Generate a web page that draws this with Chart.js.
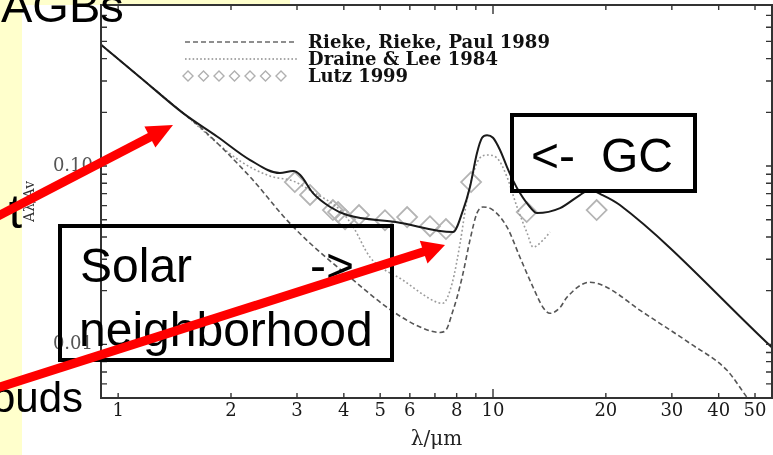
<!DOCTYPE html>
<html>
<head>
<meta charset="utf-8">
<script src="https://cdn.jsdelivr.net/npm/chart.js@4.4.1/dist/chart.umd.min.js"></script>
<style>
html, body { margin: 0; padding: 0; background: #fff; }
#page { position: relative; width: 773px; height: 455px; overflow: hidden; background: #fff; }
.yel { position: absolute; background: #ffffcc; }
#chart, #over { position: absolute; left: 0; top: 0; }
</style>
</head>
<body>
<div id="page">
  <div class="yel" style="left:0;top:0;width:22px;height:455px"></div>
  <div class="yel" style="left:0;top:0;width:290px;height:5px"></div>
  <canvas id="chart" width="773" height="455"></canvas>
  <svg id="over" width="773" height="455" font-family="'Liberation Sans', Arial, sans-serif" fill="#000">
    <rect x="60" y="226" width="332" height="134" fill="none" stroke="#000" stroke-width="4"/>
    <rect x="512" y="115" width="183" height="76" fill="none" stroke="#000" stroke-width="4"/>
    <text x="1" y="22" font-size="47">AGBs</text>
    <text x="22" y="228" font-size="48" text-anchor="end">t</text>
    <text x="83" y="412" font-size="42" text-anchor="end">clouds</text>
    <text x="80" y="282" font-size="48">Solar</text>
    <text x="310" y="282" font-size="48">-&gt;</text>
    <text x="79" y="346" font-size="48">neighborhood</text>
    <text x="531" y="172" font-size="48">&lt;-</text>
    <text x="601" y="172" font-size="48">GC</text>
    <!-- red arrows -->
    <line x1="-10" y1="220.2" x2="152" y2="136" stroke="#ff0000" stroke-width="9"/>
    <polygon points="173,125 155.4,147.6 144.4,126.4" fill="#ff0000"/>
    <line x1="-10" y1="390.2" x2="426" y2="251" stroke="#ff0000" stroke-width="9"/>
    <polygon points="445,245 427.5,263.6 419.8,240.8" fill="#ff0000"/>
  </svg>
</div>
<script>
// wavelength (micron) / extinction A_lambda/A_V
const solidLambda = [0.9, 1.15, 1.49, 1.84, 2.25, 2.70, 2.93, 3.06, 3.31, 3.68, 4.08, 5.55, 7.82, 8.32, 8.68, 9.06, 9.35, 9.64, 10.0, 10.44, 10.9, 11.3, 11.8, 12.55, 13.1, 15.1, 17.06, 18.1, 19.6, 21.8, 55.5];
const solidA = [0.479, 0.312, 0.198, 0.146, 0.108, 0.0913, 0.0937, 0.089, 0.0705, 0.0589, 0.0531, 0.0484, 0.0426, 0.0566, 0.0762, 0.118, 0.144, 0.149, 0.144, 0.123, 0.0987, 0.0834, 0.0705, 0.0589, 0.0545, 0.0581, 0.0687, 0.0733, 0.0687, 0.0604, 0.0096];

const riekeLambda = [0.9, 1.49, 1.654, 2.25, 2.82, 3.25, 4.34, 5.22, 6.39, 7.22, 7.54, 7.78, 8.02, 8.32, 8.68, 9.06, 9.40, 10.0, 10.9, 11.8, 12.79, 13.6, 14.19, 15.1, 15.75, 18.1, 20.1, 24.7, 33.5, 42.1, 47.6, 50.6];
const riekeA = [0.479, 0.198, 0.1656, 0.0868, 0.0497, 0.0369, 0.0220, 0.0161, 0.0125, 0.01166, 0.0123, 0.01493, 0.01837, 0.02506, 0.0384, 0.0544, 0.0589, 0.0566, 0.0454, 0.0308, 0.0209, 0.0161, 0.01493, 0.0161, 0.01837, 0.0223, 0.0209, 0.0155, 0.01014, 0.00715, 0.00504, 0.00426];

const draineLambda = [0.9, 1.49, 2.115, 2.54, 2.93, 3.31, 3.91, 4.24, 4.70, 5.75, 7.09, 7.35, 7.78, 8.17, 8.52, 9.06, 9.64, 10.25, 10.9, 11.59, 12.33, 12.79, 13.6, 14.19];
const draineA = [0.479, 0.198, 0.1067, 0.0879, 0.0823, 0.0715, 0.0566, 0.0454, 0.0308, 0.0229, 0.0172, 0.0170, 0.0220, 0.0369, 0.0644, 0.104, 0.1153, 0.1109, 0.0868, 0.0589, 0.0421, 0.0351, 0.0384, 0.0426];

const lutzLambda = [2.96, 3.25, 3.74, 3.86, 4.03, 4.39, 5.15, 5.90, 6.79, 7.49, 8.74, 12.3, 18.9];
const lutzA = [0.0813, 0.0688, 0.0566, 0.0552, 0.0503, 0.0531, 0.0497, 0.0517, 0.046, 0.0443, 0.0813, 0.0552, 0.0566];

const legendLabels = ['Rieke, Rieke, Paul 1989', 'Draine & Lee 1984', 'Lutz 1999'];

const xTicks = [1, 2, 3, 4, 5, 6, 7, 8, 9, 10, 20, 30, 40, 50];
const xLabels = [1, 2, 3, 4, 5, 6, 8, 10, 20, 30, 40, 50];
const yTicks = [0.006, 0.007, 0.008, 0.009, 0.01, 0.02, 0.03, 0.04, 0.05, 0.06, 0.07, 0.08, 0.09, 0.1, 0.2, 0.3, 0.4, 0.5, 0.6, 0.7];
const yLabelVals = [0.01, 0.1];
const yLabelText = ['0.01', '0.10'];

function pts(xs, ys) {
    return xs.map((v, i) => ({x: v, y: ys[i]}));
}
function near(a, b) {
    return Math.abs(a - b) < b * 1e-6;
}
function isDecade(v) {
    return near(Math.log10(v), Math.round(Math.log10(v)));
}

/* frame with inward ticks on all four sides */
const frame = {
    id: 'frame',
    afterDatasetsDraw(chart) {
        const {ctx, chartArea: a, scales: {x, y}} = chart;
        ctx.save();
        ctx.strokeStyle = '#333';
        ctx.lineWidth = 2;
        ctx.strokeRect(a.left, a.top, a.right - a.left, a.bottom - a.top);
        ctx.lineWidth = 1.4;
        ctx.beginPath();
        xTicks.forEach(v => {
            const px = x.getPixelForValue(v);
            const len = isDecade(v) ? 9 : 5;
            ctx.moveTo(px, a.bottom); ctx.lineTo(px, a.bottom - len);
            ctx.moveTo(px, a.top); ctx.lineTo(px, a.top + len);
        });
        yTicks.forEach(v => {
            const py = y.getPixelForValue(v);
            const len = isDecade(v) ? 11 : 6;
            ctx.moveTo(a.left, py); ctx.lineTo(a.left + len, py);
            ctx.moveTo(a.right, py); ctx.lineTo(a.right - len, py);
        });
        ctx.stroke();
        ctx.restore();
    }
};

/* legend drawn inside the plot, top left */
const legendBox = {
    id: 'legendBox',
    afterDraw(chart) {
        const ctx = chart.ctx;
        const rows = [42, 59, 76];
        const widths = [242, 190, 100];
        ctx.save();
        ctx.lineWidth = 1.3;
        ctx.strokeStyle = '#6a6a6a';
        ctx.setLineDash([5, 3]);
        ctx.beginPath(); ctx.moveTo(185, rows[0]); ctx.lineTo(297, rows[0]); ctx.stroke();
        ctx.strokeStyle = '#8c8c8c';
        ctx.lineWidth = 1.6;
        ctx.setLineDash([1.6, 2.2]);
        ctx.beginPath(); ctx.moveTo(185, rows[1]); ctx.lineTo(297, rows[1]); ctx.stroke();
        ctx.setLineDash([]);
        ctx.strokeStyle = '#b0b0b0';
        ctx.lineWidth = 1.4;
        for (let i = 0; i < 7; i++) {
            const cx = 188 + i * 15.5, cy = rows[2], r = 5;
            ctx.beginPath();
            ctx.moveTo(cx - r, cy); ctx.lineTo(cx, cy - r); ctx.lineTo(cx + r, cy); ctx.lineTo(cx, cy + r);
            ctx.closePath();
            ctx.stroke();
        }
        ctx.fillStyle = '#111';
        ctx.font = 'bold 18px "DejaVu Serif"';
        ctx.textBaseline = 'alphabetic';
        legendLabels.forEach((t, i) => {
            ctx.letterSpacing = '0px';
            const w = ctx.measureText(t).width;
            ctx.letterSpacing = ((widths[i] - w) / t.length) + 'px';
            ctx.fillText(t, 308, rows[i] + 6);
        });
        ctx.restore();
    }
};

new Chart(document.getElementById('chart'), {
    type: 'line',
    data: {
        datasets: [
            {label: 'GC', data: pts(solidLambda, solidA), borderColor: '#1a1a1a', borderWidth: 2,
             pointRadius: 0, cubicInterpolationMode: 'monotone', order: 1},
            {label: legendLabels[0], data: pts(riekeLambda, riekeA), borderColor: '#555', borderWidth: 1.6,
             borderDash: [5, 3], pointRadius: 0, cubicInterpolationMode: 'monotone', order: 2},
            {label: legendLabels[1], data: pts(draineLambda, draineA), borderColor: '#9a9a9a', borderWidth: 1.6,
             borderDash: [1.8, 2.4], pointRadius: 0, cubicInterpolationMode: 'monotone', order: 3},
            {label: legendLabels[2], data: pts(lutzLambda, lutzA), showLine: false, pointStyle: 'rectRot',
             pointRadius: 10, pointBorderColor: '#b4b4b4', pointBackgroundColor: 'rgba(0,0,0,0)',
             pointBorderWidth: 1.8, order: 10}
        ]
    },
    options: {
        responsive: false,
        animation: false,
        devicePixelRatio: 1,
        layout: {autoPadding: false, padding: {top: 5, right: 1, left: 0, bottom: 0}},
        plugins: {legend: {display: false}, tooltip: {enabled: false}},
        scales: {
            x: {
                type: 'logarithmic',
                min: 0.9,
                max: 55.5,
                grid: {display: false, drawTicks: false},
                border: {display: false},
                afterBuildTicks: s => { s.ticks = xTicks.map(v => ({value: v})); },
                afterFit: s => { s.height = 57; s.paddingLeft = 0; s.paddingRight = 0; },
                ticks: {
                    autoSkip: false, maxRotation: 0, padding: 3, color: '#1a1a1a',
                    font: {family: 'DejaVu Serif', size: 18},
                    callback: v => xLabels.some(l => near(v, l)) ? String(v) : ''
                },
                title: {display: true, text: 'λ/μm', color: '#222',
                        font: {family: 'DejaVu Serif', size: 20}, padding: {top: 0, bottom: 3}}
            },
            y: {
                type: 'logarithmic',
                min: 0.005,
                max: 0.8,
                grid: {display: false, drawTicks: false},
                border: {display: false},
                afterBuildTicks: s => { s.ticks = yTicks.map(v => ({value: v})); },
                afterFit: s => { s.width = 101; s.paddingTop = 0; s.paddingBottom = 0; },
                ticks: {
                    autoSkip: false, padding: 8, color: '#555',
                    font: {family: 'DejaVu Serif', size: 18},
                    callback: v => {
                        const i = yLabelVals.findIndex(l => near(v, l));
                        return i >= 0 ? yLabelText[i] : '';
                    }
                },
                title: {display: true, text: 'Aλ/Av', color: '#333',
                        font: {family: 'DejaVu Serif', size: 14}, padding: {top: 22, bottom: 0}}
            }
        }
    },
    plugins: [frame, legendBox]
});
</script>
</body>
</html>
